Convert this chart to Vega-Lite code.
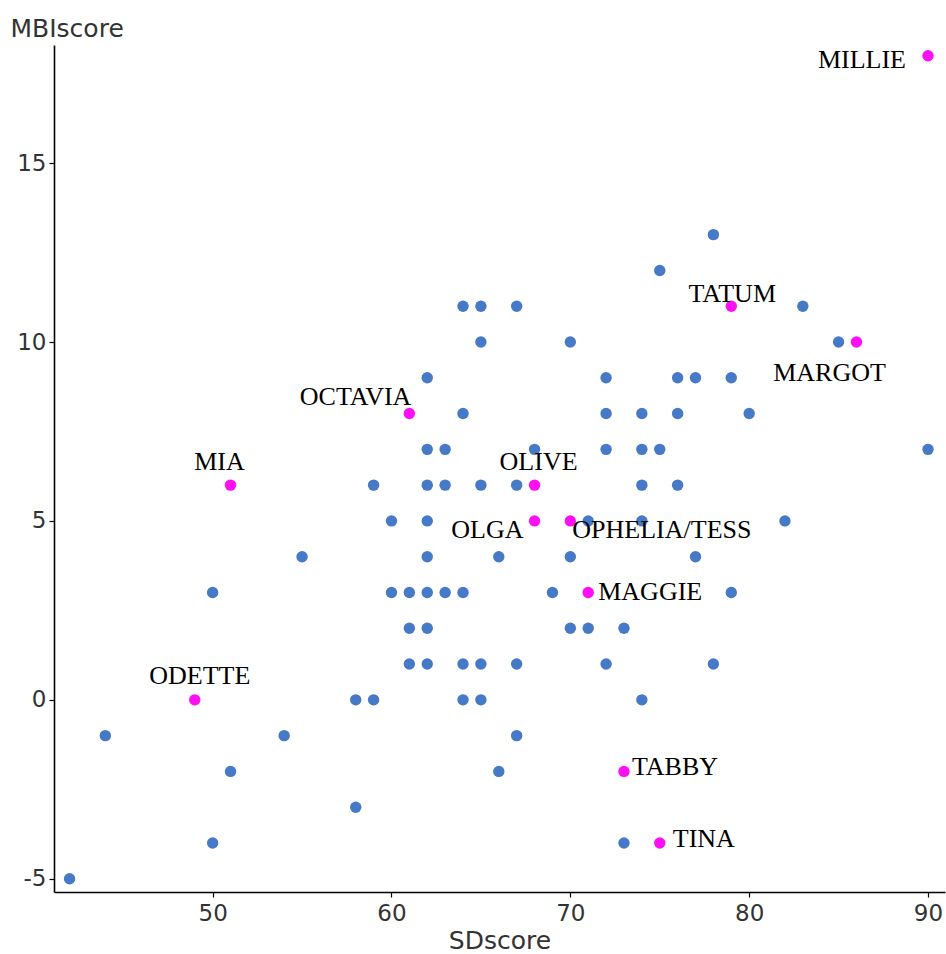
{
  "$schema": "https://vega.github.io/schema/vega-lite/v6.json",
  "width": 891,
  "height": 847,
  "autosize": {"type": "none"},
  "padding": {"left": 54, "top": 45, "right": 1, "bottom": 62},
  "background": "white",
  "config": {
    "view": {"stroke": null},
    "axis": {
      "domainColor": "#000000",
      "domainWidth": 1.6,
      "tickColor": "#000000",
      "tickWidth": 1.2,
      "tickSize": 5,
      "grid": false,
      "labelFont": "DejaVu Sans",
      "labelFontSize": 23,
      "labelColor": "#333333",
      "labelExpr": "'' + datum.value",
      "titleFont": "DejaVu Sans",
      "titleFontSize": 25,
      "titleFontWeight": "normal",
      "titleColor": "#333333"
    },
    "text": {"font": "Liberation Serif", "fontSize": 26, "color": "#000000", "baseline": "middle"}
  },
  "data": {
    "values": [
      {"SDscore": 90, "MBIscore": 18, "name": "MILLIE"},
      {"SDscore": 78, "MBIscore": 13, "name": ""},
      {"SDscore": 75, "MBIscore": 12, "name": ""},
      {"SDscore": 64, "MBIscore": 11, "name": ""},
      {"SDscore": 65, "MBIscore": 11, "name": ""},
      {"SDscore": 67, "MBIscore": 11, "name": ""},
      {"SDscore": 79, "MBIscore": 11, "name": "TATUM"},
      {"SDscore": 83, "MBIscore": 11, "name": ""},
      {"SDscore": 65, "MBIscore": 10, "name": ""},
      {"SDscore": 70, "MBIscore": 10, "name": ""},
      {"SDscore": 85, "MBIscore": 10, "name": ""},
      {"SDscore": 86, "MBIscore": 10, "name": "MARGOT"},
      {"SDscore": 62, "MBIscore": 9, "name": ""},
      {"SDscore": 72, "MBIscore": 9, "name": ""},
      {"SDscore": 76, "MBIscore": 9, "name": ""},
      {"SDscore": 77, "MBIscore": 9, "name": ""},
      {"SDscore": 79, "MBIscore": 9, "name": ""},
      {"SDscore": 61, "MBIscore": 8, "name": "OCTAVIA"},
      {"SDscore": 64, "MBIscore": 8, "name": ""},
      {"SDscore": 72, "MBIscore": 8, "name": ""},
      {"SDscore": 74, "MBIscore": 8, "name": ""},
      {"SDscore": 76, "MBIscore": 8, "name": ""},
      {"SDscore": 80, "MBIscore": 8, "name": ""},
      {"SDscore": 62, "MBIscore": 7, "name": ""},
      {"SDscore": 63, "MBIscore": 7, "name": ""},
      {"SDscore": 68, "MBIscore": 7, "name": ""},
      {"SDscore": 72, "MBIscore": 7, "name": ""},
      {"SDscore": 74, "MBIscore": 7, "name": ""},
      {"SDscore": 75, "MBIscore": 7, "name": ""},
      {"SDscore": 90, "MBIscore": 7, "name": ""},
      {"SDscore": 51, "MBIscore": 6, "name": "MIA"},
      {"SDscore": 59, "MBIscore": 6, "name": ""},
      {"SDscore": 62, "MBIscore": 6, "name": ""},
      {"SDscore": 63, "MBIscore": 6, "name": ""},
      {"SDscore": 65, "MBIscore": 6, "name": ""},
      {"SDscore": 67, "MBIscore": 6, "name": ""},
      {"SDscore": 68, "MBIscore": 6, "name": "OLIVE"},
      {"SDscore": 74, "MBIscore": 6, "name": ""},
      {"SDscore": 76, "MBIscore": 6, "name": ""},
      {"SDscore": 60, "MBIscore": 5, "name": ""},
      {"SDscore": 62, "MBIscore": 5, "name": ""},
      {"SDscore": 68, "MBIscore": 5, "name": "OLGA"},
      {"SDscore": 70, "MBIscore": 5, "name": "OPHELIA/TESS"},
      {"SDscore": 71, "MBIscore": 5, "name": ""},
      {"SDscore": 74, "MBIscore": 5, "name": ""},
      {"SDscore": 82, "MBIscore": 5, "name": ""},
      {"SDscore": 55, "MBIscore": 4, "name": ""},
      {"SDscore": 62, "MBIscore": 4, "name": ""},
      {"SDscore": 66, "MBIscore": 4, "name": ""},
      {"SDscore": 70, "MBIscore": 4, "name": ""},
      {"SDscore": 77, "MBIscore": 4, "name": ""},
      {"SDscore": 50, "MBIscore": 3, "name": ""},
      {"SDscore": 60, "MBIscore": 3, "name": ""},
      {"SDscore": 61, "MBIscore": 3, "name": ""},
      {"SDscore": 62, "MBIscore": 3, "name": ""},
      {"SDscore": 63, "MBIscore": 3, "name": ""},
      {"SDscore": 64, "MBIscore": 3, "name": ""},
      {"SDscore": 69, "MBIscore": 3, "name": ""},
      {"SDscore": 71, "MBIscore": 3, "name": "MAGGIE"},
      {"SDscore": 79, "MBIscore": 3, "name": ""},
      {"SDscore": 61, "MBIscore": 2, "name": ""},
      {"SDscore": 62, "MBIscore": 2, "name": ""},
      {"SDscore": 70, "MBIscore": 2, "name": ""},
      {"SDscore": 71, "MBIscore": 2, "name": ""},
      {"SDscore": 73, "MBIscore": 2, "name": ""},
      {"SDscore": 61, "MBIscore": 1, "name": ""},
      {"SDscore": 62, "MBIscore": 1, "name": ""},
      {"SDscore": 64, "MBIscore": 1, "name": ""},
      {"SDscore": 65, "MBIscore": 1, "name": ""},
      {"SDscore": 67, "MBIscore": 1, "name": ""},
      {"SDscore": 72, "MBIscore": 1, "name": ""},
      {"SDscore": 78, "MBIscore": 1, "name": ""},
      {"SDscore": 49, "MBIscore": 0, "name": "ODETTE"},
      {"SDscore": 58, "MBIscore": 0, "name": ""},
      {"SDscore": 59, "MBIscore": 0, "name": ""},
      {"SDscore": 64, "MBIscore": 0, "name": ""},
      {"SDscore": 65, "MBIscore": 0, "name": ""},
      {"SDscore": 74, "MBIscore": 0, "name": ""},
      {"SDscore": 44, "MBIscore": -1, "name": ""},
      {"SDscore": 54, "MBIscore": -1, "name": ""},
      {"SDscore": 67, "MBIscore": -1, "name": ""},
      {"SDscore": 51, "MBIscore": -2, "name": ""},
      {"SDscore": 66, "MBIscore": -2, "name": ""},
      {"SDscore": 73, "MBIscore": -2, "name": "TABBY"},
      {"SDscore": 58, "MBIscore": -3, "name": ""},
      {"SDscore": 50, "MBIscore": -4, "name": ""},
      {"SDscore": 73, "MBIscore": -4, "name": ""},
      {"SDscore": 75, "MBIscore": -4, "name": "TINA"},
      {"SDscore": 42, "MBIscore": -5, "name": ""}
    ]
  },
  "encoding": {
    "x": {
      "field": "SDscore",
      "type": "quantitative",
      "scale": {"domain": [41.13, 90.95], "nice": false, "zero": false},
      "axis": {
        "values": [50, 60, 70, 80, 90],
        "labelPadding": 5,
        "title": "SDscore",
        "titleY": 56,
        "titleBaseline": "alphabetic"
      }
    },
    "y": {
      "field": "MBIscore",
      "type": "quantitative",
      "scale": {"domain": [-5.37, 18.3], "nice": false, "zero": false},
      "axis": {
        "values": [-5, 0, 5, 10, 15],
        "labelPadding": 3,
        "title": "MBIscore",
        "titleAngle": 0,
        "titleAlign": "left",
        "titleBaseline": "alphabetic",
        "titleX": -44,
        "titleY": -9
      }
    }
  },
  "layer": [
    {
      "mark": {"type": "circle", "size": 130, "opacity": 1},
      "encoding": {
        "color": {
          "condition": {"test": "datum.name != ''", "value": "#ff10f4"},
          "value": "#4679c6"
        }
      }
    },
    {
      "transform": [{"filter": "datum.name == 'MILLIE'"}],
      "mark": {"type": "text", "align": "right", "dx": -22, "dy": 4},
      "encoding": {"text": {"field": "name"}}
    },
    {
      "transform": [{"filter": "datum.name == 'TATUM'"}],
      "mark": {"type": "text", "align": "center", "dx": 1, "dy": -12},
      "encoding": {"text": {"field": "name"}}
    },
    {
      "transform": [{"filter": "datum.name == 'MARGOT'"}],
      "mark": {"type": "text", "align": "center", "dx": -27, "dy": 31},
      "encoding": {"text": {"field": "name"}}
    },
    {
      "transform": [{"filter": "datum.name == 'OCTAVIA'"}],
      "mark": {"type": "text", "align": "right", "dx": 2, "dy": -17},
      "encoding": {"text": {"field": "name"}}
    },
    {
      "transform": [{"filter": "datum.name == 'MIA'"}],
      "mark": {"type": "text", "align": "center", "dx": -11, "dy": -23},
      "encoding": {"text": {"field": "name"}}
    },
    {
      "transform": [{"filter": "datum.name == 'OLIVE'"}],
      "mark": {"type": "text", "align": "center", "dx": 4, "dy": -23},
      "encoding": {"text": {"field": "name"}}
    },
    {
      "transform": [{"filter": "datum.name == 'ODETTE'"}],
      "mark": {"type": "text", "align": "center", "dx": 5, "dy": -24},
      "encoding": {"text": {"field": "name"}}
    },
    {
      "transform": [{"filter": "datum.name == 'OLGA'"}],
      "mark": {"type": "text", "align": "right", "dx": -11, "dy": 9},
      "encoding": {"text": {"field": "name"}}
    },
    {
      "transform": [{"filter": "datum.name == 'OPHELIA/TESS'"}],
      "mark": {"type": "text", "align": "left", "dx": 2, "dy": 9},
      "encoding": {"text": {"field": "name"}}
    },
    {
      "transform": [{"filter": "datum.name == 'MAGGIE'"}],
      "mark": {"type": "text", "align": "left", "dx": 10, "dy": 0},
      "encoding": {"text": {"field": "name"}}
    },
    {
      "transform": [{"filter": "datum.name == 'TABBY'"}],
      "mark": {"type": "text", "align": "left", "dx": 8, "dy": -4},
      "encoding": {"text": {"field": "name"}}
    },
    {
      "transform": [{"filter": "datum.name == 'TINA'"}],
      "mark": {"type": "text", "align": "left", "dx": 13, "dy": -4},
      "encoding": {"text": {"field": "name"}}
    }
  ]
}
